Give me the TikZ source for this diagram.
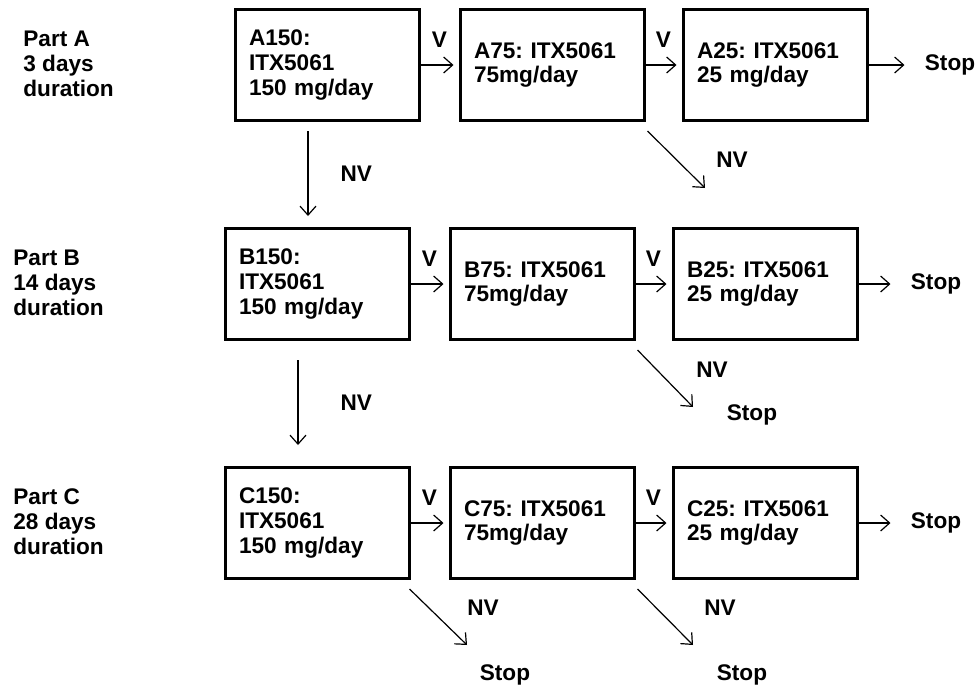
\documentclass[tikz,border=0pt]{standalone}
\usepackage{fontspec}
\setmainfont{Liberation Sans}
\frenchspacing
\usetikzlibrary{arrows.meta}
\tikzset{
  dosebox/.style={draw, line width=1.5pt, minimum width=92pt, minimum height=55.5pt,
    text width=78pt, inner xsep=7pt, align=left},
  flow/.style={-{Straight Barb[length=4.5pt,width=8pt]}, line width=0.6pt},
  lbl/.style={inner sep=0pt},
  partlbl/.style={inner sep=0pt, anchor=west, align=left}
}

\begin{document}
\begin{tikzpicture}[x=0.5pt, y=-0.5pt, font=\fontsize{11.3}{12.4}\selectfont\bfseries]
    \useasboundingbox (0,0) rectangle (976,686);

    % Part labels
    \node[partlbl] (partA) at (23,64) {Part A\\3 days\\duration};
    \node[partlbl] (partB) at (13,283) {Part B\\14 days\\duration};
    \node[partlbl] (partC) at (13,522) {Part C\\28 days\\duration};

    % Dose boxes
    \node[dosebox] (A150) at (327,65) {A150:\\ITX5061\\150 mg/day};
    \node[dosebox] (A75)  at (552,65) {A75: ITX5061\\75mg/day};
    \node[dosebox] (A25)  at (775,65) {A25: ITX5061\\25 mg/day};
    \node[dosebox] (B150) at (317,284) {B150:\\ITX5061\\150 mg/day};
    \node[dosebox] (B75)  at (542,284) {B75: ITX5061\\75mg/day};
    \node[dosebox] (B25)  at (765,284) {B25: ITX5061\\25 mg/day};
    \node[dosebox] (C150) at (317,523) {C150:\\ITX5061\\150 mg/day};
    \node[dosebox] (C75)  at (542,523) {C75: ITX5061\\75mg/day};
    \node[dosebox] (C25)  at (765,523) {C25: ITX5061\\25 mg/day};

    % Stop nodes
    \node[lbl] (stopA)  at (950,65)  {Stop};
    \node[lbl] (stopB)  at (936,284) {Stop};
    \node[lbl] (stopC)  at (936,523) {Stop};
    \node[lbl] (stopB2) at (752,415) {Stop};
    \node[lbl] (stopC1) at (505,675) {Stop};
    \node[lbl] (stopC2) at (742,675) {Stop};

    % Free ends of the NV arrows
    \coordinate (endA)  at (705,188);
    \coordinate (endB)  at (693,407);
    \coordinate (endC1) at (467,645);
    \coordinate (endC2) at (693,645);

    % V steps
    \draw[flow, shorten >=2.5pt] (A150) -- node[lbl, above=8.6pt] {V} (A75);
    \draw[flow, shorten >=2.5pt] (A75) -- node[lbl, above=8.6pt] {V} (A25);
    \draw[flow, shorten >=2.5pt] (B150) -- node[lbl, above=8.6pt] {V} (B75);
    \draw[flow, shorten >=2.5pt] (B75) -- node[lbl, above=8.6pt] {V} (B25);
    \draw[flow, shorten >=2.5pt] (C150) -- node[lbl, above=8.6pt] {V} (C75);
    \draw[flow, shorten >=2.5pt] (C75) -- node[lbl, above=8.6pt] {V} (C25);

    % To stop
    \draw[flow, shorten >=10pt] (A25) -- (stopA);
    \draw[flow, shorten >=10pt] (B25) -- (stopB);
    \draw[flow, shorten >=10pt] (C25) -- (stopC);

    % NV down to next part
    \draw[flow] ([shift={(-19,9)}]A150.south) -- node[lbl, right=16pt] {NV} ([shift={(-9,-11)}]B150.north);
    \draw[flow] ([shift={(-19,19)}]B150.south) -- node[lbl, right=21pt] {NV} ([shift={(-19,-21)}]C150.north);

    % NV diagonals
    \draw[flow] ([shift={(2,9)}]A75.south east) -- (endA);
    \draw[flow] ([shift={(2,9)}]B75.south east) -- (endB);
    \draw[flow] ([shift={(-1,9)}]C150.south east) -- (endC1);
    \draw[flow] ([shift={(2,9)}]C75.south east) -- (endC2);
    \node[lbl] (nvA)  at (732,160) {NV};
    \node[lbl] (nvB)  at (712,370) {NV};
    \node[lbl] (nvC1) at (483,608) {NV};
    \node[lbl] (nvC2) at (720,608) {NV};

\end{tikzpicture}
\end{document}
